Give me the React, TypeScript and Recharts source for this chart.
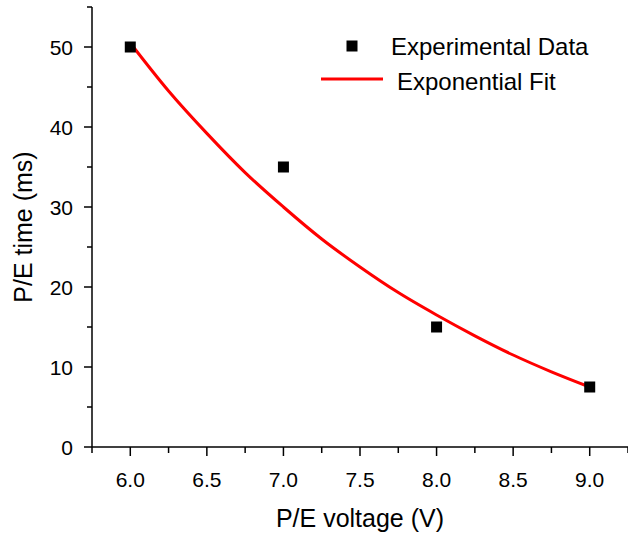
import React from 'react';
import { ComposedChart, XAxis, YAxis, Scatter, Line, Legend, Label } from 'recharts';

// ---- data ----
const experimentalX = [6.0, 7.0, 8.0, 9.0];
const experimentalY = [50, 35, 15, 7.5];

const fitX = [6.0, 6.25, 6.5, 6.75, 7.0, 7.25, 7.5, 7.75, 8.0, 8.25, 8.5, 8.75, 9.0];
const fitY = [50.5, 44.5, 39.2, 34.3, 30.0, 26.0, 22.5, 19.3, 16.5, 13.9, 11.5, 9.4, 7.5];

const xTicks = [5.75, 6.0, 6.25, 6.5, 6.75, 7.0, 7.25, 7.5, 7.75, 8.0, 8.25, 8.5, 8.75, 9.0, 9.25];
const xMajorTicks = [6.0, 6.5, 7.0, 7.5, 8.0, 8.5, 9.0];
const yTicks = [0, 5, 10, 15, 20, 25, 30, 35, 40, 45, 50, 55];
const yMajorTicks = [0, 10, 20, 30, 40, 50];

const seriesNames = ['Experimental Data', 'Exponential Fit'];
const xTitle = 'P/E voltage (V)';
const yTitle = 'P/E time (ms)';

const scatterData = experimentalX.map((x, i) => ({ x, y: experimentalY[i] }));
const fitData = fitX.map((x, i) => ({ x, y: fitY[i] }));

const FONT = '"Liberation Sans", Arial, Helvetica, sans-serif';

const XTick = (props: any) => {
  const { x, y, payload } = props;
  const v = payload.value as number;
  const major = xMajorTicks.some((m) => Math.abs(m - v) < 1e-9);
  return (
    <g>
      <line x1={x} y1={y} x2={x} y2={y + (major ? 9 : 6)} stroke="#000" strokeWidth={1.5} />
      {major && (
        <text x={x} y={y + 40} textAnchor="middle" fontSize={21} fontFamily={FONT} fill="#000">
          {v.toFixed(1)}
        </text>
      )}
    </g>
  );
};

const YTick = (props: any) => {
  const { x, y, payload } = props;
  const v = payload.value as number;
  const major = yMajorTicks.includes(v);
  return (
    <g>
      <line x1={x} y1={y} x2={x - (major ? 8 : 5)} y2={y} stroke="#000" strokeWidth={1.5} />
      {major && (
        <text x={x - 19} y={y + 7.5} textAnchor="end" fontSize={21} fontFamily={FONT} fill="#000">
          {String(v)}
        </text>
      )}
    </g>
  );
};

const XTitle = (props: any) => {
  const vb = props.viewBox;
  return (
    <text x={vb.x + vb.width / 2} y={vb.y + 80} textAnchor="middle" fontSize={25} fontFamily={FONT} fill="#000">
      {xTitle}
    </text>
  );
};

const YTitle = (props: any) => {
  const vb = props.viewBox;
  const cx = vb.x + 31.5;
  const cy = vb.y + vb.height / 2;
  return (
    <text
      x={cx}
      y={cy}
      transform={`rotate(-90, ${cx}, ${cy})`}
      textAnchor="middle"
      fontSize={25}
      fontFamily={FONT}
      fill="#000"
    >
      {yTitle}
    </text>
  );
};

const LegendContent = () => (
  <svg width={320} height={90} style={{ display: 'block' }}>
    <rect x={46.5} y={20.5} width={11} height={11} fill="#000" />
    <text x={91} y={35} fontSize={24} fontFamily={FONT} fill="#000">
      {seriesNames[0]}
    </text>
    <line x1={21} y1={59} x2={83} y2={59} stroke="#ff0000" strokeWidth={3} />
    <text x={97} y={70} fontSize={24} fontFamily={FONT} fill="#000">
      {seriesNames[1]}
    </text>
  </svg>
);

const SquareShape = (props: any) => {
  const { cx, cy } = props;
  return <rect x={cx - 5.5} y={cy - 5.5} width={11} height={11} fill="#000" />;
};

export default function App() {
  return (
    <div style={{ position: 'absolute', left: 0, top: 0, width: 628, height: 535, background: '#fff' }}>
      <ComposedChart width={628} height={535} margin={{ top: 7, right: 0, bottom: 0, left: 0 }}>
        <XAxis
          type="number"
          dataKey="x"
          domain={[5.75, 9.25]}
          ticks={xTicks}
          interval={0}
          tickSize={0}
          tickMargin={0}
          tickLine={false}
          tick={<XTick />}
          axisLine={{ stroke: '#000', strokeWidth: 1.5 }}
          height={88}
          allowDataOverflow
        >
          <Label content={<XTitle />} />
        </XAxis>
        <YAxis
          type="number"
          dataKey="y"
          domain={[0, 55]}
          ticks={yTicks}
          interval={0}
          tickSize={0}
          tickMargin={0}
          tickLine={false}
          tick={<YTick />}
          axisLine={{ stroke: '#000', strokeWidth: 1.5 }}
          width={92}
          allowDataOverflow
        >
          <Label content={<YTitle />} />
        </YAxis>
        <Legend
          layout="vertical"
          align="center"
          verticalAlign="middle"
          content={<LegendContent />}
          wrapperStyle={{ position: 'absolute', left: 300, top: 20, width: 320, height: 90 }}
        />
        <Line
          name={seriesNames[1]}
          data={fitData}
          dataKey="y"
          type="monotone"
          stroke="#ff0000"
          strokeWidth={3}
          dot={false}
          activeDot={false}
          isAnimationActive={false}
        />
        <Scatter
          name={seriesNames[0]}
          data={scatterData}
          dataKey="y"
          fill="#000"
          shape={<SquareShape />}
          isAnimationActive={false}
        />
      </ComposedChart>
    </div>
  );
}
